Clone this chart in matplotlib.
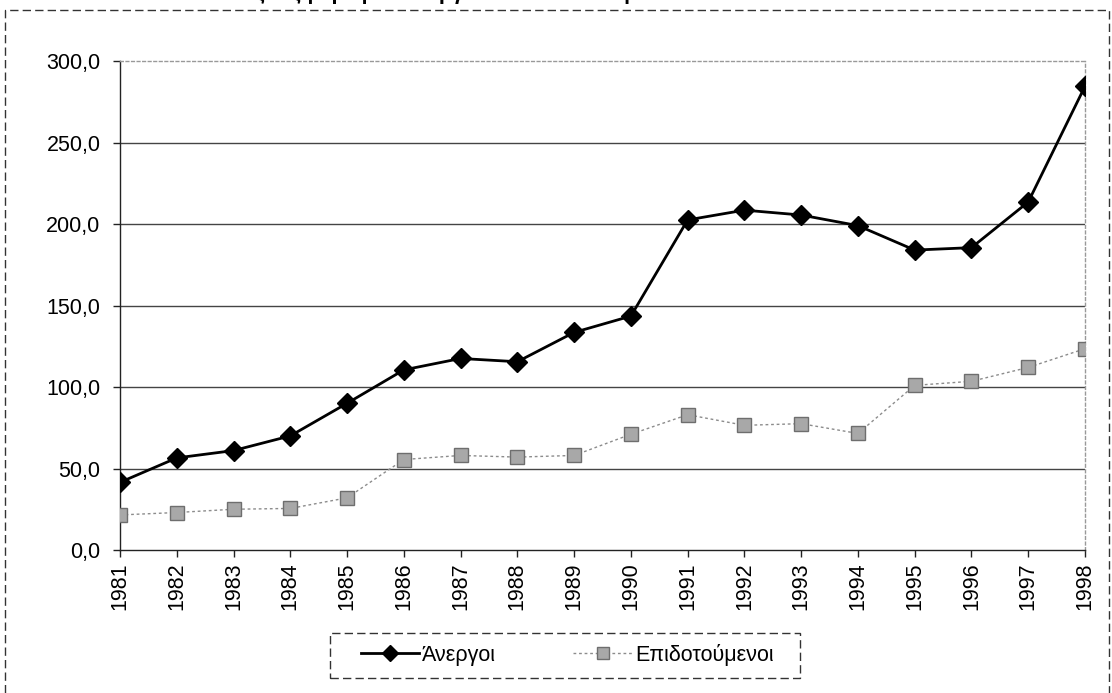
import matplotlib
matplotlib.use('Agg')
import matplotlib.pyplot as plt
from matplotlib.patches import Rectangle
from matplotlib.ticker import FuncFormatter

plt.rcParams['font.family'] = ['Liberation Sans', 'DejaVu Sans']

years = list(range(1981, 1999))
anergoi = [41.5, 56.5, 61, 70, 90, 110.5, 117.5, 115.5, 133.5, 143.5,
           202.5, 208.5, 205.5, 199, 184, 185.5, 213.5, 284.5]
epidotoumenoi = [21.5, 23, 25, 25.5, 32, 55.5, 58, 57, 58, 71,
                 83, 76.5, 77.5, 71.5, 101, 103.5, 112, 123.5]
labels = ['Άνεργοι', 'Επιδοτούμενοι']
title = 'Εξέλιξη αριθμού ανέργων και επιδοτούμενων 1981-1998'

W, H = 1112, 693
fig = plt.figure(figsize=(W / 100, H / 100), dpi=100)
ax = fig.add_axes([120 / W, 143 / H, 965 / W, 489 / H])

# outer dashed chart frame
fig.patches.append(Rectangle((5 / W, -0.01), 1104 / W, 1 - 10 / H + 0.01,
                             transform=fig.transFigure, fill=False,
                             edgecolor='#333333', lw=1, linestyle=(0, (6, 3))))
# title, cut off at the top edge in the original (only descenders show)
fig.text(0.465, 1.0, title, ha='center', va='baseline',
         fontsize=15, fontweight='bold')

ax.plot(years, anergoi, color='black', lw=2, marker='D', markersize=10,
        markerfacecolor='black', markeredgecolor='black', label=labels[0], zorder=4)
ax.plot(years, epidotoumenoi, color='#8c8c8c', lw=1, linestyle=(0, (2, 2)),
        marker='s', markersize=9.5, markerfacecolor='#a8a8a8',
        markeredgecolor='#6e6e6e', label=labels[1], zorder=3)

ax.set_xlim(1981, 1998)
ax.set_ylim(0, 300)
ax.set_xticks(years)
ax.set_xticklabels([str(y) for y in years], rotation=90)
ax.set_yticks(range(0, 301, 50))
ax.yaxis.set_major_formatter(FuncFormatter(lambda v, p: f'{v:.1f}'.replace('.', ',')))
ax.tick_params(axis='both', labelsize=15.5, direction='out', length=5, width=1,
               color='#222222')
ax.tick_params(axis='y', pad=9)
ax.tick_params(axis='x', pad=4)

for v in range(50, 300, 50):
    ax.axhline(v, color='#444444', lw=1, zorder=1)

for s in ['left', 'bottom']:
    ax.spines[s].set_color('#222222')
    ax.spines[s].set_linewidth(1)
for s in ['top', 'right']:
    ax.spines[s].set_color('#999999')
    ax.spines[s].set_linewidth(1)
    ax.spines[s].set_linestyle((0, (2, 2)))

# legend without its own frame; dashed box drawn separately
ax.legend(loc='center', bbox_to_anchor=(567 / W, 38 / H),
          bbox_transform=fig.transFigure, ncol=2, fontsize=15.5,
          handlelength=2.7, handletextpad=0.15, columnspacing=3.6,
          frameon=False, borderaxespad=0, markerscale=0.85)
fig.patches.append(Rectangle((330 / W, 15 / H), 470 / W, 45 / H,
                             transform=fig.transFigure, fill=False,
                             edgecolor='#333333', lw=1, linestyle=(0, (6, 3))))

fig.savefig('out.png', dpi=100)
